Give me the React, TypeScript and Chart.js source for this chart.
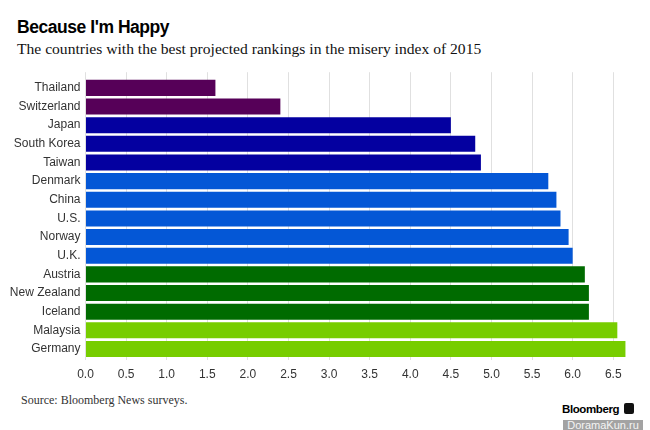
import React, { useEffect, useRef } from "react";
import { Chart, registerables } from "chart.js";

Chart.register(...registerables);

const countries = [
  "Thailand",
  "Switzerland",
  "Japan",
  "South Korea",
  "Taiwan",
  "Denmark",
  "China",
  "U.S.",
  "Norway",
  "U.K.",
  "Austria",
  "New Zealand",
  "Iceland",
  "Malaysia",
  "Germany",
];

const miseryIndex = [1.6, 2.4, 4.5, 4.8, 4.87, 5.7, 5.8, 5.85, 5.95, 6.0, 6.15, 6.2, 6.2, 6.55, 6.65];

const PURPLE = "#560058";
const NAVY = "#0400a0";
const BLUE = "#0457d6";
const GREEN = "#006b00";
const LIME = "#77cd00";

const barColors = [
  PURPLE, PURPLE,
  NAVY, NAVY, NAVY,
  BLUE, BLUE, BLUE, BLUE, BLUE,
  GREEN, GREEN, GREEN,
  LIME, LIME,
];

const xTickMin = 0;
const xTickMax = 6.7;
const xTickStep = 0.5;

function BarChart() {
  const ref = useRef<HTMLCanvasElement | null>(null);
  useEffect(() => {
    if (!ref.current) return;
    const chart = new Chart(ref.current, {
      type: "bar",
      data: {
        datasets: [
          {
            data: countries.map((c, i) => ({ x: miseryIndex[i], y: i })),
            backgroundColor: barColors,
            borderWidth: 0,
            barPercentage: 0.86,
            categoryPercentage: 1,
          },
        ],
      },
      options: {
        indexAxis: "y",
        animation: false,
        responsive: true,
        maintainAspectRatio: false,
        layout: { padding: { top: 8, right: 20.5, left: 0, bottom: 0 } },
        plugins: { legend: { display: false }, tooltip: { enabled: false } },
        scales: {
          y: {
            type: "linear",
            reverse: true,
            offset: false,
            min: -0.84,
            max: 14.59,
            afterFit: (s: any) => {
              s.width = 85.5;
            },
            afterBuildTicks: (s: any) => {
              s.ticks = s.ticks.filter(
                (t: any) => Number.isInteger(t.value) && t.value >= 0 && t.value < countries.length
              );
            },
            ticks: {
              stepSize: 1,
              includeBounds: false,
              autoSkip: false,
              padding: 5,
              color: "#333",
              font: { family: "'Liberation Sans', Arial, sans-serif", size: 12 },
              callback: (v: any) => countries[v] ?? "",
            },
            grid: { display: false, offset: false, drawTicks: false, tickLength: 0 },
            border: { display: false },
          },
          x: {
            type: "linear",
            position: "bottom",
            offset: false,
            min: xTickMin,
            max: xTickMax,
            afterFit: (s: any) => {
              s.height = 30;
            },
            ticks: {
              stepSize: xTickStep,
              includeBounds: false,
              autoSkip: false,
              maxRotation: 0,
              padding: 7,
              color: "#333",
              font: { family: "'Liberation Sans', Arial, sans-serif", size: 12 },
              callback: (v: any) => Number(v).toFixed(1),
            },
            grid: { color: "#e0e0e0", lineWidth: 1, drawTicks: false },
            border: { display: false },
          },
        },
      },
    });
    return () => chart.destroy();
  }, []);
  return <canvas ref={ref} />;
}

export default function App() {
  return (
    <div
      style={{
        position: "absolute",
        left: 0,
        top: 0,
        width: 650,
        height: 430,
        background: "#fff",
        overflow: "hidden",
      }}
    >
      <div
        style={{
          position: "absolute",
          left: 17,
          top: 19,
          fontFamily: "'Liberation Sans', Arial, sans-serif",
          fontWeight: 700,
          fontSize: 17.5,
          lineHeight: "17.5px",
          color: "#000",
          whiteSpace: "nowrap",
          letterSpacing: -0.45,
        }}
      >
        Because I'm Happy
      </div>
      <div
        style={{
          position: "absolute",
          left: 17,
          top: 41.3,
          fontFamily: "'Liberation Serif', 'Times New Roman', serif",
          fontSize: 15.6,
          lineHeight: "15.6px",
          color: "#111",
          whiteSpace: "nowrap",
        }}
      >
        The countries with the best projected rankings in the misery index of 2015
      </div>
      <div style={{ position: "absolute", left: 0, top: 60, width: 650, height: 330 }}>
        <BarChart />
      </div>
      <div
        style={{
          position: "absolute",
          left: 21,
          top: 394,
          fontFamily: "'Liberation Serif', 'Times New Roman', serif",
          fontSize: 12,
          lineHeight: "12px",
          color: "#333",
          whiteSpace: "nowrap",
        }}
      >
        Source: Bloomberg News surveys.
      </div>
      <div
        style={{
          position: "absolute",
          left: 562,
          top: 404,
          fontFamily: "'Liberation Sans', Arial, sans-serif",
          fontWeight: 700,
          fontSize: 11.5,
          lineHeight: "11.5px",
          color: "#000",
          whiteSpace: "nowrap",
          letterSpacing: -0.4,
        }}
      >
        Bloomberg
      </div>
      <div
        style={{
          position: "absolute",
          left: 624,
          top: 403,
          width: 10,
          height: 11,
          background: "#111",
          borderRadius: 2,
        }}
      />
      <div
        style={{
          position: "absolute",
          left: 563,
          top: 420,
          width: 80,
          height: 10,
          background: "#a3a3a3",
          color: "#f4f4f4",
          fontFamily: "'Liberation Sans', Arial, sans-serif",
          fontSize: 11,
          lineHeight: "10px",
          textAlign: "center",
          whiteSpace: "nowrap",
          overflow: "hidden",
        }}
      >
        DoramaKun.ru
      </div>
    </div>
  );
}
